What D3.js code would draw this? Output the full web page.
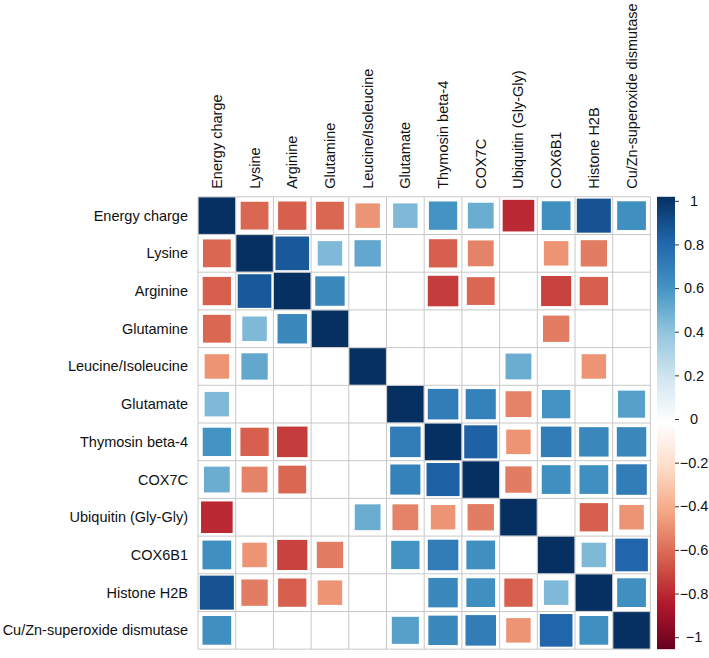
<!DOCTYPE html>
<html>
<head>
<meta charset="utf-8">
<script src="https://cdn.jsdelivr.net/npm/d3@7"></script>
<style>
  html, body { margin: 0; padding: 0; background: #fff; }
  text { font-family: "Liberation Sans", Arial, sans-serif; }
</style>
</head>
<body>
<svg id="chart" width="709" height="658"></svg>
<script>
const labels = ["Energy charge", "Lysine", "Arginine", "Glutamine", "Leucine/Isoleucine", "Glutamate",
  "Thymosin beta-4", "COX7C", "Ubiquitin (Gly-Gly)", "COX6B1", "Histone H2B", "Cu/Zn-superoxide dismutase"];

// correlation matrix rows (0 = not shown)
const rowEnergy   = [1, -0.58, -0.6, -0.58, -0.45, 0.45, 0.6, 0.5, -0.75, 0.62, 0.87, 0.62];
const rowLys      = [-0.58, 1, 0.85, 0.45, 0.52, 0, -0.6, -0.5, 0, -0.45, -0.52, 0];
const rowArg      = [-0.6, 0.85, 1, 0.65, 0, 0, -0.7, -0.58, 0, -0.68, -0.6, 0];
const rowGln      = [-0.58, 0.45, 0.65, 1, 0, 0, 0, 0, 0, -0.52, 0, 0];
const rowLeu      = [-0.45, 0.52, 0, 0, 1, 0, 0, 0, 0.5, 0, -0.45, 0];
const rowGlu      = [0.45, 0, 0, 0, 0, 1, 0.7, 0.68, -0.5, 0.6, 0, 0.55];
const rowThy      = [0.6, -0.6, -0.7, 0, 0, 0.7, 1, 0.82, -0.45, 0.7, 0.65, 0.65];
const rowCox7c    = [0.5, -0.5, -0.58, 0, 0, 0.68, 0.82, 1, -0.52, 0.62, 0.62, 0.7];
const rowUbi      = [-0.75, 0, 0, 0, 0.5, -0.5, -0.45, -0.52, 1, 0, -0.6, -0.45];
const rowCox6b1   = [0.62, -0.45, -0.68, -0.52, 0, 0.6, 0.7, 0.62, 0, 1, 0.45, 0.8];
const rowH2b      = [0.87, -0.52, -0.6, -0.45, 0, 0, 0.65, 0.62, -0.6, 0.45, 1, 0.62];
const rowCuZn     = [0.62, 0, 0, 0, 0, 0.55, 0.65, 0.7, -0.45, 0.8, 0.62, 1];
const corr = [rowEnergy, rowLys, rowArg, rowGln, rowLeu, rowGlu, rowThy, rowCox7c, rowUbi, rowCox6b1, rowH2b, rowCuZn];

const barTicks = [1, 0.8, 0.6, 0.4, 0.2, 0, -0.2, -0.4, -0.6, -0.8, -1];
const paletteStops = [-1, -0.8, -0.6, -0.4, -0.2, 0, 0.2, 0.4, 0.6, 0.8, 1];
const paletteColors = ["#67001F", "#B2182B", "#D6604D", "#F4A582", "#FDDBC7", "#FFFFFF",
  "#D1E5F0", "#92C5DE", "#4393C3", "#2166AC", "#053061"];

const svg = d3.select("#chart");
const gx0 = 198, gy0 = 196.8, cell = 37.7, n = labels.length;

const x = d3.scaleBand().domain(d3.range(n)).range([gx0, gx0 + cell * n]);
const y = d3.scaleBand().domain(d3.range(n)).range([gy0, gy0 + cell * n]);
const color = d3.scaleLinear().domain(paletteStops).range(paletteColors).interpolate(d3.interpolateRgb);
const size = d3.scaleSqrt().domain([0, 1]).range([0, cell - 1.2]);

// grid
const grid = svg.append("g");
d3.range(n + 1).forEach(i => {
  grid.append("line").attr("x1", gx0 + i * cell).attr("x2", gx0 + i * cell)
    .attr("y1", gy0).attr("y2", gy0 + n * cell)
    .attr("stroke", "#c8c8c8").attr("stroke-width", 1);
  grid.append("line").attr("y1", gy0 + i * cell).attr("y2", gy0 + i * cell)
    .attr("x1", gx0).attr("x2", gx0 + n * cell)
    .attr("stroke", "#c8c8c8").attr("stroke-width", 1);
});

// squares
const cells = [];
corr.forEach((row, i) => row.forEach((v, j) => { if (v !== 0) cells.push({i, j, v}); }));
svg.append("g").selectAll("rect").data(cells).join("rect")
  .attr("x", d => x(d.j) + cell / 2 - size(Math.abs(d.v)) / 2)
  .attr("y", d => y(d.i) + cell / 2 - size(Math.abs(d.v)) / 2)
  .attr("width", d => size(Math.abs(d.v)))
  .attr("height", d => size(Math.abs(d.v)))
  .attr("fill", d => color(d.v));

// row labels
svg.append("g").selectAll("text").data(labels).join("text")
  .attr("x", gx0 - 10)
  .attr("y", (d, i) => y(i) + cell / 2)
  .attr("text-anchor", "end")
  .attr("dominant-baseline", "central")
  .attr("font-size", 14.5)
  .attr("fill", "#111")
  .text(d => d);

// column labels
svg.append("g").selectAll("text").data(labels).join("text")
  .attr("transform", (d, i) => `translate(${x(i) + cell / 2},${gy0 - 8}) rotate(-90)`)
  .attr("text-anchor", "start")
  .attr("dominant-baseline", "central")
  .attr("font-size", 14.5)
  .attr("fill", "#111")
  .text(d => d);

// colour bar
const bx = 657, bw = 18;
const barScale = d3.scaleLinear().domain([1, -1]).range([gy0, gy0 + n * cell]);
const tickScale = d3.scaleLinear().domain([1, -1]).range([gy0 + 4, gy0 + n * cell - 12]);
const defs = svg.append("defs");
const grad = defs.append("linearGradient").attr("id", "cbar")
  .attr("x1", 0).attr("x2", 0).attr("y1", 1).attr("y2", 0);
paletteStops.forEach((s, k) => {
  grad.append("stop").attr("offset", (s + 1) / 2).attr("stop-color", paletteColors[k]);
});
svg.append("rect").attr("x", bx).attr("y", barScale(1)).attr("width", bw)
  .attr("height", barScale(-1) - barScale(1)).attr("fill", "url(#cbar)");

const axis = d3.axisRight(tickScale).tickValues(barTicks).tickSize(4).tickFormat(d => d3.format("")(d));
const ag = svg.append("g").attr("transform", `translate(${bx + bw},0)`).call(axis);
ag.select(".domain").remove();
ag.selectAll(".tick line").attr("stroke", "#333");
ag.selectAll(".tick text")
  .attr("x", 19).attr("text-anchor", "middle")
  .attr("font-size", 14.5).attr("fill", "#111")
  .style("font-family", "'Liberation Sans', Arial, sans-serif");
</script>
</body>
</html>
